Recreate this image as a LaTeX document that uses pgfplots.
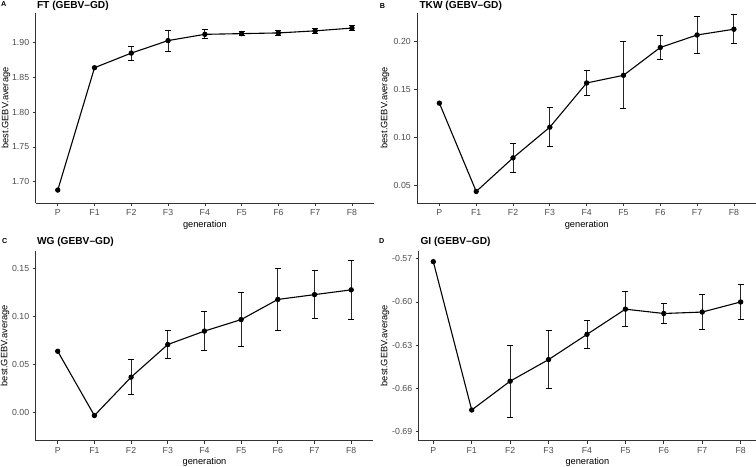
\documentclass[border=0pt]{standalone}
\usepackage{pgfplots}
\usepackage{pgfplotstable}
\pgfplotsset{compat=1.18}
\usepackage{fontspec}
\setmainfont{Liberation Sans}

\definecolor{tickgrey}{HTML}{4D4D4D}
\definecolor{linegrey}{HTML}{333333}

% generation index, mean GEBV, upper and lower error
\pgfplotstableread{
x y ep em
0 1.688 0 0
1 1.864 0 0
2 1.885 0.010 0.010
3 1.903 0.015 0.015
4 1.912 0.0065 0.0065
5 1.913 0.003 0.003
6 1.914 0.0035 0.0035
7 1.917 0.0035 0.0035
8 1.921 0.0035 0.0035
}\ftdata

\pgfplotstableread{
x y ep em
0 0.136 0 0
1 0.044 0 0
2 0.079 0.015 0.015
3 0.111 0.0205 0.020
4 0.157 0.013 0.013
5 0.165 0.035 0.035
6 0.194 0.0125 0.0125
7 0.207 0.019 0.019
8 0.213 0.015 0.015
}\tkwdata

\pgfplotstableread{
x y ep em
0 0.064 0 0
1 -0.003 0 0
2 0.037 0.018 0.018
3 0.071 0.015 0.015
4 0.085 0.020 0.020
5 0.097 0.028 0.028
6 0.118 0.032 0.032
7 0.123 0.025 0.025
8 0.128 0.031 0.031
}\wgdata

\pgfplotstableread{
x y ep em
0 -0.572 0 0
1 -0.675 0 0
2 -0.655 0.025 0.025
3 -0.640 0.020 0.020
4 -0.6225 0.010 0.010
5 -0.605 0.012 0.012
6 -0.608 0.007 0.007
7 -0.607 0.012 0.012
8 -0.600 0.012 0.012
}\gidata

\pgfplotsset{
  panel/.style={
    scale only axis, height=190bp, anchor=south west,
    axis x line*=bottom, axis y line*=left,
    axis line style={-, draw=linegrey, line width=0.7bp},
    tick align=outside, major tick length=3bp,
    tick style={draw=linegrey, line width=0.7bp},
    xtick={0,...,8}, xticklabels={P,F1,F2,F3,F4,F5,F6,F7,F8},
    ticklabel style={font=\fontsize{8.8}{10}\selectfont, text=tickgrey},
    clip=false,
  },
  meanline/.style={black, line width=1.1bp, mark=*, mark size=2.1bp},
  errbars/.style={black, only marks, mark=none, forget plot,
    restrict x to domain=2:8,
    error bars/.cd, y dir=both, y explicit,
    error bar style={line width=0.9bp, black!85},
    error mark=-,
    error mark options={rotate=90, black, mark size=3bp, line width=0.9bp}},
}

\newcommand{\paneltitle}[3]{\node[anchor=base west, font=\fontsize{10.2}{12}\selectfont\bfseries] at (#1,#2) {#3};}
\newcommand{\panelletter}[3]{\node[anchor=base west, inner sep=0pt, font=\fontsize{7.2}{9}\selectfont\bfseries] at (#1,#2) {#3};}

\begin{document}
\begin{tikzpicture}[x=1bp,y=1bp]
\path[use as bounding box] (0,0) rectangle (756,467);

% A: FT
\begin{axis}[panel, at={(35.7bp,264bp)}, width=338.3bp,
  xmin=-0.6, xmax=8.6, ymin=1.6694, ymax=1.9427,
  ytick={1.70,1.75,1.80,1.85,1.90},
  yticklabels={1.70,1.75,1.80,1.85,1.90}]
\addplot[errbars] table[x=x, y=y, y error plus=ep, y error minus=em] {\ftdata};
\addplot[meanline] table[x=x, y=y] {\ftdata};
\end{axis}

% B: TKW
\begin{axis}[panel, at={(417.3bp,263.7bp)}, width=338.7bp,
  xmin=-0.6, xmax=8.6, ymin=0.0317, ymax=0.2296,
  ytick={0.05,0.10,0.15,0.20},
  yticklabels={0.05,0.10,0.15,0.20}]
\addplot[errbars] table[x=x, y=y, y error plus=ep, y error minus=em] {\tkwdata};
\addplot[meanline] table[x=x, y=y] {\tkwdata};
\end{axis}

% C: WG
\begin{axis}[panel, at={(35.7bp,26.3bp)}, width=337.5bp,
  xmin=-0.6, xmax=8.6, ymin=-0.0292, ymax=0.1688,
  ytick={0,0.05,0.10,0.15},
  yticklabels={0.00,0.05,0.10,0.15}]
\addplot[errbars] table[x=x, y=y, y error plus=ep, y error minus=em] {\wgdata};
\addplot[meanline] table[x=x, y=y] {\wgdata};
\end{axis}

% D: GI
\begin{axis}[panel, at={(418.7bp,26.3bp)}, width=337.3bp,
  xmin=-0.38, xmax=8.4, ymin=-0.6963, ymax=-0.5644,
  ytick={-0.69,-0.66,-0.63,-0.60,-0.57},
  yticklabels={-0.69,-0.66,-0.63,-0.60,-0.57}]
\addplot[errbars] table[x=x, y=y, y error plus=ep, y error minus=em] {\gidata};
\addplot[meanline] table[x=x, y=y] {\gidata};
\end{axis}

% panel letters and titles
\panelletter{1}{460.3}{A}
\panelletter{379.7}{458.7}{B}
\panelletter{2}{223}{C}
\panelletter{379}{223}{D}
\paneltitle{33.5}{458}{FT (GEBV–GD)}
\paneltitle{416}{458}{TKW (GEBV–GD)}
\paneltitle{33.5}{222}{WG (GEBV–GD)}
\paneltitle{417}{222}{GI (GEBV–GD)}

% axis titles
\foreach \xc/\yc in {204.9/242, 586.7/242, 204.5/4.7, 587.4/4.7}
  \node[font=\fontsize{9.3}{11}\selectfont] at (\xc,\yc) {generation};
\foreach \xc/\yc in {6/359, 385/359, 5/121.3, 385/121.3}
  \node[rotate=90, font=\fontsize{9.3}{11}\selectfont] at (\xc,\yc) {best.GEBV.average};
\end{tikzpicture}
\end{document}
